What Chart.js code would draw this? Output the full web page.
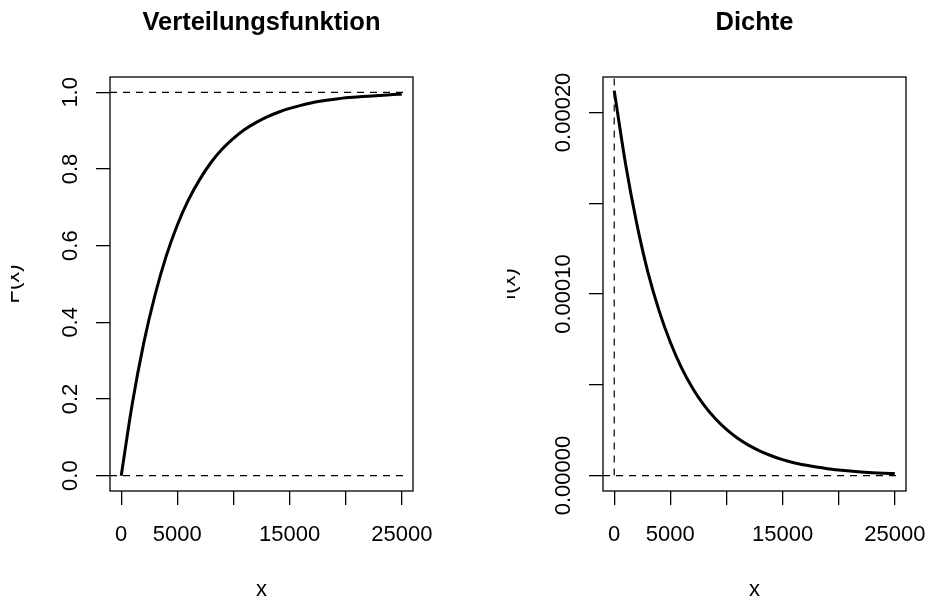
<!DOCTYPE html>
<html>
<head>
<meta charset="utf-8">
<script src="https://cdn.jsdelivr.net/npm/chart.js@4.4.0/dist/chart.umd.min.js"></script>
<style>
  html, body { margin: 0; padding: 0; background: #fff; }
  #wrap { position: relative; width: 930px; height: 600px; }
  .panel { position: absolute; top: 0; width: 465px; height: 600px; }
</style>
</head>
<body>
<div id="wrap">
  <div class="panel" style="left:0"><canvas id="cdfChart" width="465" height="600"></canvas></div>
  <div class="panel" style="left:465px"><canvas id="pdfChart" width="465" height="600"></canvas></div>
</div>
<script>
// x positions (every 1000)
var xs = [0, 1000, 2000, 3000, 4000, 5000, 6000, 7000, 8000, 9000, 10000, 11000, 12000,
  13000, 14000, 15000, 16000, 17000, 18000, 19000, 20000, 21000, 22000, 23000, 24000, 25000];

// Verteilungsfunktion F(x)
var cdfValues = [0, 0.19, 0.345, 0.47, 0.572, 0.654, 0.72, 0.773, 0.817, 0.852, 0.88, 0.903, 0.921,
  0.936, 0.948, 0.958, 0.966, 0.973, 0.978, 0.982, 0.986, 0.988, 0.99, 0.992, 0.994, 0.995];

// Dichte f(x)
var pdfValues = [0.000212, 0.000172, 0.000139, 0.000112, 0.0000907, 0.0000734, 0.0000593, 0.000048,
  0.0000388, 0.0000314, 0.0000254, 0.0000205, 0.0000166, 0.0000135, 0.0000109, 0.0000088, 0.0000071,
  0.0000058, 0.0000047, 0.0000038, 0.0000031, 0.0000025, 0.000002, 0.0000016, 0.0000013, 0.0000011];

// tick values and labels (R drops the labels that would overlap)
var xTicks = [0, 5000, 10000, 15000, 20000, 25000];
var xTickLabels = ["0", "5000", "", "15000", "", "25000"];
var cdfTicks = [0, 0.2, 0.4, 0.6, 0.8, 1.0];
var cdfTickLabels = ["0.0", "0.2", "0.4", "0.6", "0.8", "1.0"];
var pdfTicks = [0, 0.00005, 0.0001, 0.00015, 0.0002];
var pdfTickLabels = ["0.00000", "", "0.00010", "", "0.00020"];

var titles = ["Verteilungsfunktion", "Dichte"];
var yTitles = ["F(x)", "f(x)"];
var xTitle = "x";

// dashed guide lines
var guideXs = [-1000, 25500];
var cdfGuideYs = [0, 1];
var pdfGuideX = [0, 0];
var pdfGuideY = [0, 0.00023];

var FONT = '"Liberation Sans", Arial, Helvetica, sans-serif';

function toPoints(xv, yv) {
  return xv.map(function (x, i) { return { x: x, y: yv[i] }; });
}

function curve(pts) {
  return {
    data: pts, borderColor: "#000", borderWidth: 3, pointRadius: 0,
    showLine: true, fill: false, cubicInterpolationMode: "monotone"
  };
}

function dashed(pts) {
  return {
    data: pts, borderColor: "#000", borderWidth: 1.2, borderDash: [7, 6],
    pointRadius: 0, showLine: true, fill: false
  };
}

// box, tick labels, titles
function makeDecor(cfg) {
  return {
    id: "decor",
    afterDraw: function (chart) {
      var ctx = chart.ctx;
      var a = chart.chartArea;
      var xs_ = chart.scales.x, ys_ = chart.scales.y;
      ctx.save();
      ctx.strokeStyle = "#000";
      ctx.lineWidth = 1.3;
      ctx.strokeRect(a.left, a.top, a.right - a.left, a.bottom - a.top);

      ctx.fillStyle = "#000";
      ctx.font = "22px " + FONT;
      ctx.textAlign = "center";
      ctx.textBaseline = "alphabetic";
      xs_.ticks.forEach(function (t, i) {
        if (cfg.xLabels[i]) ctx.fillText(cfg.xLabels[i], xs_.getPixelForValue(t.value), 541);
      });
      ctx.fillText(xTitle, (a.left + a.right) / 2, 596);

      ys_.ticks.forEach(function (t, i) {
        if (!cfg.yLabels[i]) return;
        ctx.save();
        ctx.translate(cfg.yLabelX, ys_.getPixelForValue(t.value));
        ctx.rotate(-Math.PI / 2);
        ctx.fillText(cfg.yLabels[i], 0, 0);
        ctx.restore();
      });

      // y title, clipped at the figure edge like the original
      ctx.save();
      ctx.beginPath();
      ctx.rect(cfg.clipX, 0, 465, 600);
      ctx.clip();
      ctx.translate(cfg.yTitleX, (a.top + a.bottom) / 2);
      ctx.rotate(-Math.PI / 2);
      ctx.fillText(cfg.yTitle, 0, 0);
      ctx.restore();

      ctx.font = "bold 25.5px " + FONT;
      ctx.fillText(cfg.title, (a.left + a.right) / 2, 30);
      ctx.restore();
    }
  };
}

function makeChart(id, datasets, yMin, yMax, yTicks, leftW, rightPad, decor) {
  var tickGrid = {
    drawOnChartArea: false, drawTicks: true, tickLength: 14,
    color: "#000", lineWidth: 1.3
  };
  return new Chart(document.getElementById(id).getContext("2d"), {
    type: "scatter",
    data: { datasets: datasets },
    options: {
      responsive: false,
      animation: false,
      layout: { padding: { left: 0, right: rightPad, top: 77, bottom: 0 } },
      plugins: { legend: { display: false }, tooltip: { enabled: false } },
      scales: {
        x: {
          type: "linear", min: -1000, max: 26000,
          afterBuildTicks: function (s) { s.ticks = xTicks.map(function (v) { return { value: v }; }); },
          afterFit: function (s) { s.height = 109; },
          ticks: { display: false },
          grid: tickGrid,
          border: { display: false }
        },
        y: {
          type: "linear", min: yMin, max: yMax,
          afterBuildTicks: function (s) { s.ticks = yTicks.map(function (v) { return { value: v }; }); },
          afterFit: function (s) { s.width = leftW; },
          ticks: { display: false },
          grid: tickGrid,
          border: { display: false }
        }
      }
    },
    plugins: [decor]
  });
}

makeChart("cdfChart",
  [
    curve(toPoints(xs, cdfValues)),
    dashed(toPoints(guideXs, [cdfGuideYs[0], cdfGuideYs[0]])),
    dashed(toPoints(guideXs, [cdfGuideYs[1], cdfGuideYs[1]]))
  ],
  -0.04, 1.04, cdfTicks, 110, 52,
  makeDecor({ title: titles[0], yTitle: yTitles[0], xLabels: xTickLabels, yLabels: cdfTickLabels,
    yLabelX: 77, yTitleX: 19, clipX: 11 }));

makeChart("pdfChart",
  [
    curve(toPoints(xs, pdfValues)),
    dashed(toPoints(guideXs, [0, 0])),
    dashed(toPoints(pdfGuideX, pdfGuideY))
  ],
  -0.0000085, 0.0002195, pdfTicks, 138, 24,
  makeDecor({ title: titles[1], yTitle: yTitles[1], xLabels: xTickLabels, yLabels: pdfTickLabels,
    yLabelX: 105, yTitleX: 50, clipX: 42 }));
</script>
</body>
</html>
